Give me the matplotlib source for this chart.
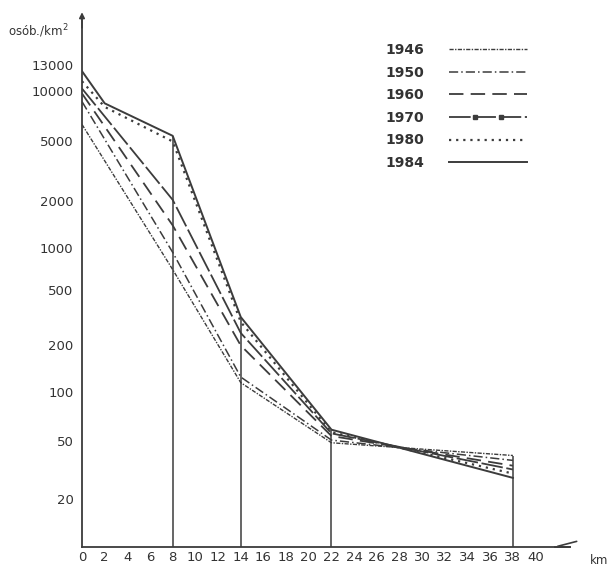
import numpy as np
import matplotlib
matplotlib.use("Agg")
import matplotlib.pyplot as plt
from matplotlib.lines import Line2D
from matplotlib.legend_handler import HandlerLine2D

# distance from the centre (km)
km_short = [0, 8, 14, 22, 38]
km_long = [0, 2, 8, 14, 22, 38]

# population density (persons / km2)
d1946 = [6300, 700, 115, 49, 40]
d1950 = [8600, 930, 125, 51, 37]
d1960 = [9600, 1400, 200, 54, 34]
d1970 = [10200, 2050, 246, 56, 32]
d1980 = [11000, 8000, 5000, 295, 57, 30]
d1984 = [12200, 8400, 5400, 320, 59, 28]

years = ["1946", "1950", "1960", "1970", "1980", "1984"]

ytick_vals = [20, 50, 100, 200, 500, 1000, 2000, 5000, 10000, 13000]
ytick_labels = ["20", "50", "100", "200", "500", "1000", "2000", "5000", "10000", "13000"]
xtick_vals = list(range(0, 41, 2))

# the hand-drawn axis is only roughly logarithmic, so follow its tick spacing
scale_logs = np.log10([9.3] + ytick_vals + [26700])
scale_h = np.array([0, 48, 105.5, 155, 201.5, 257, 299, 345.5, 405.5, 456.5, 482, 527])


def fwd(v):
    v = np.asarray(v, dtype=float)
    return np.interp(np.log10(np.maximum(v, 1e-6)), scale_logs, scale_h)


def inv(h):
    return 10 ** np.interp(np.asarray(h, dtype=float), scale_h, scale_logs)


class MarkedHandler(HandlerLine2D):
    # two marks in the middle of the legend sample, like the drawing
    def create_artists(self, *args, **kwargs):
        arts = super().create_artists(*args, **kwargs)
        for a in arts:
            a.set_markevery([1, 2])
        return arts


col = "#3c3c3c"

fig = plt.figure(figsize=(6.13, 5.68), dpi=100)
ax = fig.add_axes([82 / 613, 21 / 568, 487.6 / 613, 527 / 568])
ax.set_yscale("function", functions=(fwd, inv))
ax.set_xlim(0, 43)
ax.set_ylim(9.3, 26700)

styles = {
    "1946": dict(ls=(0, (3, 1, 1, 1)), lw=1.0),
    "1950": dict(ls=(0, (6, 2, 1, 2)), lw=1.1),
    "1960": dict(ls=(0, (8, 4)), lw=1.3),
    "1970": dict(ls=(0, (12, 2)), lw=1.3),
    "1980": dict(ls=(0, (1, 2.2)), lw=1.6),
    "1984": dict(ls="-", lw=1.4),
}
series = [
    (km_short, d1946), (km_short, d1950), (km_short, d1960),
    (km_short, d1970), (km_long, d1980), (km_long, d1984),
]
handles = []
for yr, (xs, ys) in zip(years, series):
    ax.plot(xs, ys, color=col, **styles[yr])
    if yr == "1970":
        h = Line2D([], [], color=col, marker="s", ms=3, **styles[yr])
    else:
        h = Line2D([], [], color=col, **styles[yr])
    handles.append(h)

# vertical guide lines up to the highest curve
vx = [8, 14, 22, 38]
tops = []
for x in vx:
    vals = [ys[xs.index(x)] for xs, ys in series]
    tops.append(max(vals))
ax.vlines(vx, 9.3, tops, color=col, lw=1.1)

for s in ["top", "right"]:
    ax.spines[s].set_visible(False)
for s in ["left", "bottom"]:
    ax.spines[s].set_color(col)
    ax.spines[s].set_linewidth(1.3)

ax.set_yticks(ytick_vals)
ax.set_yticklabels(ytick_labels)
ax.set_xticks(xtick_vals)
ax.set_xticklabels([str(v) for v in xtick_vals])
ax.yaxis.set_minor_locator(matplotlib.ticker.NullLocator())
ax.tick_params(axis="both", length=0, labelsize=9.5, colors="#333333")
ax.tick_params(axis="y", pad=6)
ax.tick_params(axis="x", pad=3)

# axis arrows
ax.annotate("", xy=(0, 1.02), xytext=(0, 0.98), xycoords="axes fraction",
            arrowprops=dict(arrowstyle="-|>", color=col, lw=1.2, mutation_scale=8))
ax.annotate("", xy=(1.02, 0.012), xytext=(0.97, 0.0), xycoords="axes fraction",
            arrowprops=dict(arrowstyle="-", color=col, lw=1.2))
ax.plot([1.0, 0.97], [0.0, 0.0], transform=ax.transAxes, color=col, lw=1.3, clip_on=False)

fig.text(8 / 613, 1 - 31 / 568, "osób./km$^2$", fontsize=8.5, color="#333333", va="center")
fig.text(590 / 613, 1 - 561 / 568, "km", fontsize=8.5, color="#333333", va="center")

leg = ax.legend(handles, years, loc="upper left", bbox_to_anchor=(0.596, 0.98),
                frameon=False, markerfirst=False, handlelength=5.6, handletextpad=1.8,
                labelspacing=0.62, fontsize=10,
                handler_map={handles[3]: MarkedHandler(numpoints=4, marker_pad=0.0)})
for t in leg.get_texts():
    t.set_fontweight("bold")
    t.set_color("#333333")

fig.savefig("out.png", dpi=100, facecolor="white")
